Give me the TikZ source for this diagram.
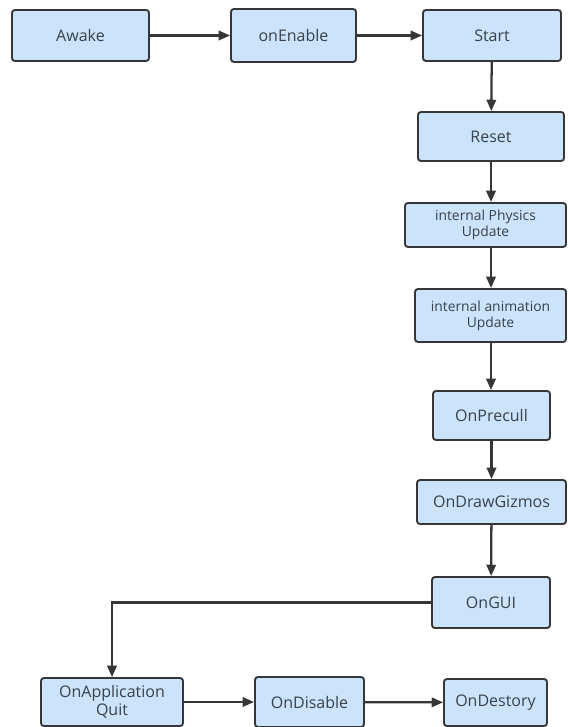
\documentclass[tikz,border=0pt]{standalone}
\usepackage{fontspec}
\setmainfont{Open Sans}
\usetikzlibrary{arrows.meta}
\definecolor{boxfill}{HTML}{CCE4FB}
\definecolor{ink}{HTML}{363636}
\definecolor{txt}{HTML}{38414C}
\tikzset{
  stage/.style={draw=ink, fill=boxfill, line width=1.4pt, rounded corners=2.2pt,
    inner sep=0pt, align=center, text=txt, font=\fontsize{12}{13.5}\selectfont},
  smalltxt/.style={font=\fontsize{10.4}{12}\selectfont},
  flow/.style={draw=ink, line width=1.7pt, -{Triangle[length=8.5pt,width=7pt]}},
}
\begin{document}
\begin{tikzpicture}[x=0.75pt, y=-0.75pt]
\useasboundingbox (0,0) rectangle (567,727);
% top row
\node[stage, minimum width=102.75pt, minimum height=38.25pt] (awake) at (80.5,35.5) {Awake};
\node[stage, minimum width=93.75pt, minimum height=39.75pt] (enable) at (293.5,35.5) {onEnable};
\node[stage, minimum width=103.5pt, minimum height=38.25pt] (start) at (492,35.5) {Start};
% right column
\node[stage, minimum width=109.5pt, minimum height=36.75pt] (reset) at (491,136.5) {Reset};
\node[stage, smalltxt, minimum width=120.75pt, minimum height=33pt] (physics) at (485.5,225) {internal Physics\\Update};
\node[stage, smalltxt, minimum width=113.25pt, minimum height=39.75pt] (anim) at (490.5,315.5) {internal animation\\Update};
\node[stage, minimum width=87.75pt, minimum height=36.75pt] (precull) at (491.5,415.5) {OnPrecull};
\node[stage, minimum width=111.75pt, minimum height=33pt] (gizmos) at (491.5,502) {OnDrawGizmos};
\node[stage, minimum width=88.5pt, minimum height=38.25pt] (gui) at (491,602.5) {OnGUI};
% bottom row
\node[stage, minimum width=106.5pt, minimum height=36pt] (quit) at (112,702) {OnApplication\\Quit};
\node[stage, minimum width=81.75pt, minimum height=37.5pt] (disable) at (309.5,702) {OnDisable};
\node[stage, minimum width=77.25pt, minimum height=35.25pt] (destroy) at (495.5,702.5) {OnDestory};
% connectors
\draw[flow] (awake) -- (enable);
\draw[flow] (enable) -- (start);
\draw[flow] (start) -- (reset);
\draw[flow] (reset.south) -- (reset.south |- physics.north);
\draw[flow] (reset.south |- physics.south) -- (reset.south |- anim.north);
\draw[flow] (reset.south |- anim.south) -- (reset.south |- precull.north);
\draw[flow] (precull) -- (gizmos);
\draw[flow] (gizmos) -- (gui);
\draw[flow] (gui.west) -| (quit.north);
\draw[flow] (quit) -- (disable);
\draw[flow] (disable) -- (destroy);
\end{tikzpicture}
\end{document}
